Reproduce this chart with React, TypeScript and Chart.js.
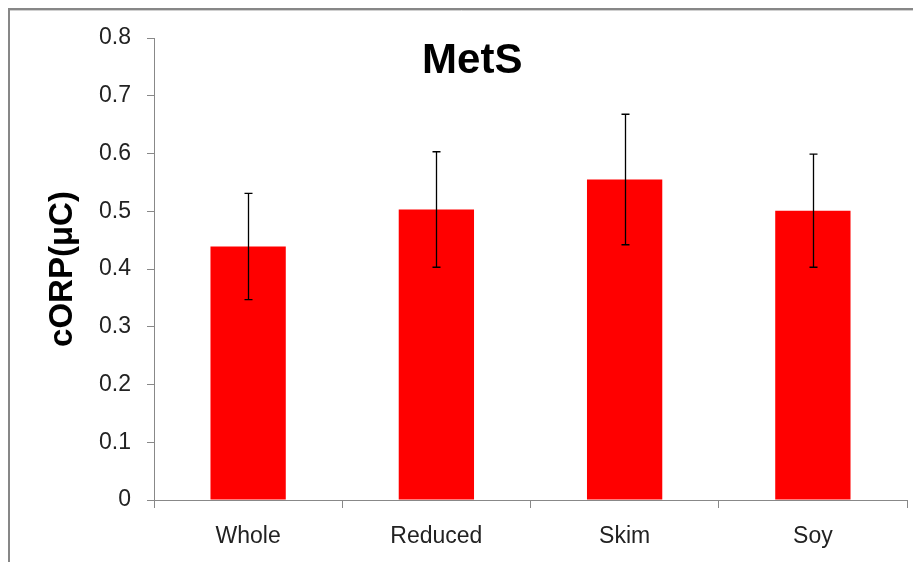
import React, { useEffect, useRef } from "react";
import { Chart, registerables } from "chart.js";

Chart.register(...registerables);

const categories = ["Whole", "Reduced", "Skim", "Soy"];
const values = [0.439, 0.503, 0.555, 0.501];
const errors = [0.092, 0.1, 0.113, 0.098];
const yTicks = [0, 0.1, 0.2, 0.3, 0.4, 0.5, 0.6, 0.7, 0.8];
const chartTitle = "MetS";
const yTitle = "cORP(μC)";

const FONT = "'Liberation Sans', Arial, sans-serif";

const framePlugin = {
  id: "frame",
  beforeDraw(chart: any) {
    const { ctx, width, height } = chart;
    ctx.save();
    ctx.fillStyle = "#ffffff";
    ctx.fillRect(0, 0, width, height);
    ctx.strokeStyle = "#878787";
    ctx.lineWidth = 2;
    ctx.strokeRect(1, 1, width + 10, height + 10);
    ctx.strokeStyle = "#d0d0d0";
    ctx.lineWidth = 1;
    ctx.beginPath();
    ctx.moveTo(2, 2.5);
    ctx.lineTo(width, 2.5);
    ctx.stroke();
    ctx.restore();
  },
};

const errorBarPlugin = {
  id: "errorBars",
  afterDatasetsDraw(chart: any) {
    const { ctx } = chart;
    const yScale = chart.scales.y;
    const meta = chart.getDatasetMeta(0);
    ctx.save();
    ctx.strokeStyle = "#000000";
    ctx.lineWidth = 1.3;
    meta.data.forEach((bar: any, i: number) => {
      const x = Math.round(bar.x) + 0.5;
      const top = yScale.getPixelForValue(values[i] + errors[i]);
      const bot = yScale.getPixelForValue(values[i] - errors[i]);
      ctx.beginPath();
      ctx.moveTo(x, top);
      ctx.lineTo(x, bot);
      ctx.moveTo(x - 4, top);
      ctx.lineTo(x + 4, top);
      ctx.moveTo(x - 4, bot);
      ctx.lineTo(x + 4, bot);
      ctx.stroke();
    });
    ctx.restore();
  },
};

const titlePlugin = {
  id: "insideTitle",
  afterDraw(chart: any) {
    const { ctx, width } = chart;
    ctx.save();
    ctx.fillStyle = "#000000";
    ctx.font = `bold 42px ${FONT}`;
    ctx.textAlign = "center";
    ctx.textBaseline = "middle";
    ctx.fillText(chartTitle, width * 0.513, 53);
    ctx.restore();
  },
};

export default function App() {
  const ref = useRef<HTMLCanvasElement>(null);

  useEffect(() => {
    document.documentElement.style.overflow = "hidden";
    if (!ref.current) return;
    const chart = new Chart(ref.current, {
      type: "bar",
      data: {
        labels: categories,
        datasets: [
          {
            data: values,
            backgroundColor: "#ff0000",
            borderWidth: 0,
            barPercentage: 0.4,
            categoryPercentage: 1,
          },
        ],
      },
      plugins: [framePlugin, errorBarPlugin, titlePlugin],
      options: {
        animation: false,
        responsive: true,
        maintainAspectRatio: false,
        layout: { padding: { top: 30, right: 6, left: 0, bottom: 8 } },
        plugins: {
          legend: { display: false },
          tooltip: { enabled: false },
          title: { display: false },
        },
        scales: {
          x: {
            afterFit: (s: any) => {
              s.height = 54;
            },
            grid: {
              display: true,
              offset: true,
              drawOnChartArea: false,
              drawTicks: true,
              tickLength: 8,
              color: "#888888",
            },
            border: { display: true, color: "#888888", width: 1 },
            ticks: {
              color: "#222222",
              font: { family: FONT, size: 23 },
              padding: 15,
              maxRotation: 0,
            },
          },
          y: {
            min: 0,
            max: 0.8,
            afterFit: (s: any) => {
              s.width = 146;
            },
            afterBuildTicks: (s: any) => {
              s.ticks = yTicks.map((v) => ({ value: v }));
            },
            grid: {
              display: true,
              drawOnChartArea: false,
              drawTicks: true,
              tickLength: 7,
              color: "#888888",
            },
            border: { display: true, color: "#888888", width: 1 },
            ticks: {
              color: "#222222",
              font: { family: FONT, size: 23 },
              padding: 16,
              callback: (v: any) => (Number(v) === 0 ? "0" : Number(v).toFixed(1)),
            },
            title: {
              display: true,
              text: yTitle,
              color: "#000000",
              font: { family: FONT, size: 33, weight: "bold" },
              padding: { top: 35, bottom: 0 },
            },
          },
        },
      },
    });
    return () => chart.destroy();
  }, []);

  return (
    <div style={{ width: 905, height: 554, position: "relative" }}>
      <canvas ref={ref} />
    </div>
  );
}
